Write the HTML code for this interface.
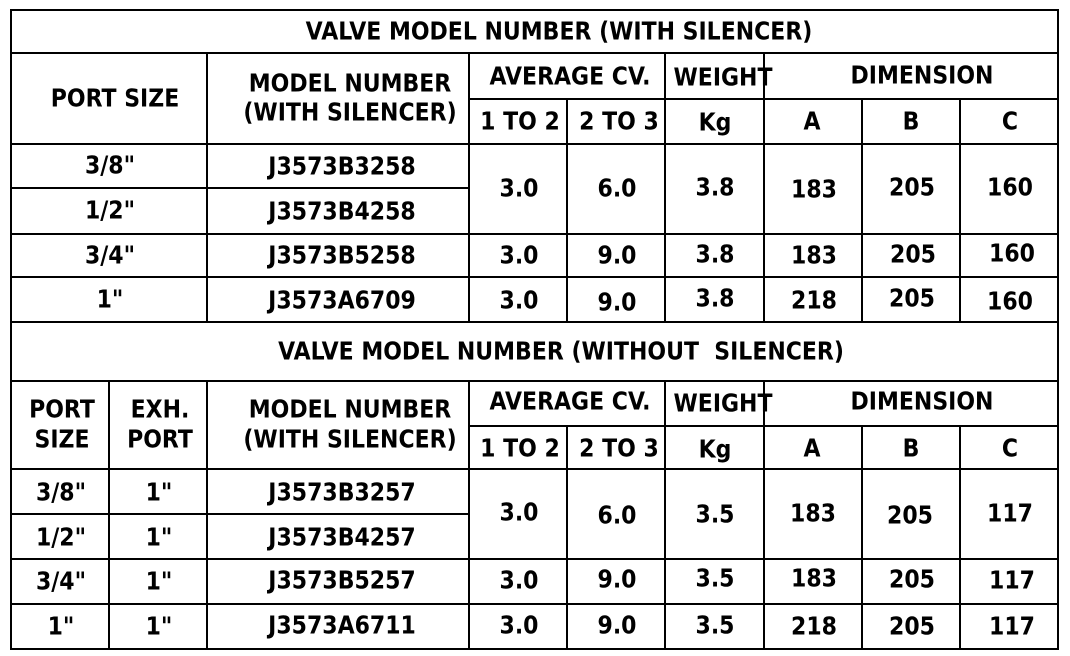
<!DOCTYPE html>
<html>
<head>
<meta charset="utf-8">
<style>
html,body{margin:0;padding:0;background:#fff;}
body{width:1070px;height:656px;position:relative;overflow:hidden;}
.h{position:absolute;height:2px;background:#000;}
.v{position:absolute;width:2px;background:#000;}
.t{position:absolute;white-space:nowrap;font-family:"DejaVu Sans","Liberation Sans",sans-serif;font-weight:bold;font-size:25px;line-height:25px;color:#000;transform:translate(-50%,-50%) scaleX(0.88);}
</style>
</head>
<body>
<!-- top table horizontals -->
<div class="h" style="left:10px;top:9px;width:1049px"></div>
<div class="h" style="left:10px;top:52px;width:1049px"></div>
<div class="h" style="left:468px;top:98px;width:591px"></div>
<div class="h" style="left:10px;top:143px;width:1049px"></div>
<div class="h" style="left:10px;top:187px;width:460px"></div>
<div class="h" style="left:10px;top:233px;width:1049px"></div>
<div class="h" style="left:10px;top:276px;width:1049px"></div>
<div class="h" style="left:10px;top:321px;width:1049px"></div>
<!-- bottom table horizontals -->
<div class="h" style="left:10px;top:380px;width:1049px"></div>
<div class="h" style="left:468px;top:425px;width:591px"></div>
<div class="h" style="left:10px;top:468px;width:1049px"></div>
<div class="h" style="left:10px;top:513px;width:460px"></div>
<div class="h" style="left:10px;top:558px;width:1049px"></div>
<div class="h" style="left:10px;top:603px;width:1049px"></div>
<div class="h" style="left:10px;top:648px;width:1049px"></div>
<!-- outer verticals -->
<div class="v" style="left:10px;top:9px;height:641px"></div>
<div class="v" style="left:1057px;top:9px;height:641px"></div>
<!-- top table verticals -->
<div class="v" style="left:206px;top:52px;height:271px"></div>
<div class="v" style="left:468px;top:52px;height:271px"></div>
<div class="v" style="left:566px;top:98px;height:225px"></div>
<div class="v" style="left:664px;top:52px;height:271px"></div>
<div class="v" style="left:763px;top:52px;height:271px"></div>
<div class="v" style="left:861px;top:98px;height:225px"></div>
<div class="v" style="left:959px;top:98px;height:225px"></div>
<!-- bottom table verticals -->
<div class="v" style="left:108px;top:380px;height:270px"></div>
<div class="v" style="left:206px;top:380px;height:270px"></div>
<div class="v" style="left:468px;top:380px;height:270px"></div>
<div class="v" style="left:566px;top:425px;height:225px"></div>
<div class="v" style="left:664px;top:380px;height:270px"></div>
<div class="v" style="left:763px;top:380px;height:270px"></div>
<div class="v" style="left:861px;top:425px;height:225px"></div>
<div class="v" style="left:959px;top:425px;height:225px"></div>

<!-- top table text -->
<span class="t" style="left:559px;top:31px">VALVE MODEL NUMBER (WITH SILENCER)</span>
<span class="t" style="left:115px;top:98px">PORT SIZE</span>
<span class="t" style="left:350px;top:83px">MODEL NUMBER</span>
<span class="t" style="left:350px;top:112px">(WITH SILENCER)</span>
<span class="t" style="left:570px;top:76px">AVERAGE CV.</span>
<span class="t" style="left:723px;top:77px">WEIGHT</span>
<span class="t" style="left:922px;top:75px">DIMENSION</span>
<span class="t" style="left:520px;top:121px">1 TO 2</span>
<span class="t" style="left:619px;top:121px">2 TO 3</span>
<span class="t" style="left:715px;top:122px">Kg</span>
<span class="t" style="left:812px;top:121px">A</span>
<span class="t" style="left:911px;top:121px">B</span>
<span class="t" style="left:1010px;top:121px">C</span>

<span class="t" style="left:110px;top:165px">3/8&quot;</span>
<span class="t" style="left:342px;top:166px">J3573B3258</span>
<span class="t" style="left:110px;top:210px">1/2&quot;</span>
<span class="t" style="left:342px;top:211px">J3573B4258</span>
<span class="t" style="left:519px;top:188px">3.0</span>
<span class="t" style="left:617px;top:188px">6.0</span>
<span class="t" style="left:715px;top:187px">3.8</span>
<span class="t" style="left:814px;top:189px">183</span>
<span class="t" style="left:912px;top:187px">205</span>
<span class="t" style="left:1010px;top:187px">160</span>

<span class="t" style="left:110px;top:255px">3/4&quot;</span>
<span class="t" style="left:342px;top:255px">J3573B5258</span>
<span class="t" style="left:519px;top:255px">3.0</span>
<span class="t" style="left:617px;top:255px">9.0</span>
<span class="t" style="left:715px;top:254px">3.8</span>
<span class="t" style="left:814px;top:255px">183</span>
<span class="t" style="left:913px;top:254px">205</span>
<span class="t" style="left:1012px;top:253px">160</span>

<span class="t" style="left:110px;top:299px">1&quot;</span>
<span class="t" style="left:342px;top:300px">J3573A6709</span>
<span class="t" style="left:519px;top:300px">3.0</span>
<span class="t" style="left:617px;top:302px">9.0</span>
<span class="t" style="left:715px;top:298px">3.8</span>
<span class="t" style="left:814px;top:300px">218</span>
<span class="t" style="left:912px;top:298px">205</span>
<span class="t" style="left:1010px;top:301px">160</span>

<!-- bottom table text -->
<span class="t" style="left:561px;top:351px">VALVE MODEL NUMBER (WITHOUT&nbsp; SILENCER)</span>
<span class="t" style="left:62px;top:409px">PORT</span>
<span class="t" style="left:62px;top:439px">SIZE</span>
<span class="t" style="left:160px;top:409px">EXH.</span>
<span class="t" style="left:160px;top:439px">PORT</span>
<span class="t" style="left:350px;top:409px">MODEL NUMBER</span>
<span class="t" style="left:350px;top:439px">(WITH SILENCER)</span>
<span class="t" style="left:570px;top:401px">AVERAGE CV.</span>
<span class="t" style="left:723px;top:403px">WEIGHT</span>
<span class="t" style="left:922px;top:401px">DIMENSION</span>
<span class="t" style="left:520px;top:448px">1 TO 2</span>
<span class="t" style="left:619px;top:448px">2 TO 3</span>
<span class="t" style="left:715px;top:449px">Kg</span>
<span class="t" style="left:812px;top:448px">A</span>
<span class="t" style="left:911px;top:448px">B</span>
<span class="t" style="left:1010px;top:448px">C</span>

<span class="t" style="left:61px;top:492px">3/8&quot;</span>
<span class="t" style="left:159px;top:492px">1&quot;</span>
<span class="t" style="left:342px;top:492px">J3573B3257</span>
<span class="t" style="left:61px;top:537px">1/2&quot;</span>
<span class="t" style="left:159px;top:537px">1&quot;</span>
<span class="t" style="left:342px;top:537px">J3573B4257</span>
<span class="t" style="left:519px;top:512px">3.0</span>
<span class="t" style="left:617px;top:515px">6.0</span>
<span class="t" style="left:715px;top:514px">3.5</span>
<span class="t" style="left:813px;top:513px">183</span>
<span class="t" style="left:910px;top:515px">205</span>
<span class="t" style="left:1010px;top:513px">117</span>

<span class="t" style="left:61px;top:581px">3/4&quot;</span>
<span class="t" style="left:159px;top:581px">1&quot;</span>
<span class="t" style="left:342px;top:580px">J3573B5257</span>
<span class="t" style="left:519px;top:580px">3.0</span>
<span class="t" style="left:617px;top:579px">9.0</span>
<span class="t" style="left:715px;top:578px">3.5</span>
<span class="t" style="left:814px;top:578px">183</span>
<span class="t" style="left:912px;top:579px">205</span>
<span class="t" style="left:1012px;top:580px">117</span>

<span class="t" style="left:61px;top:626px">1&quot;</span>
<span class="t" style="left:159px;top:626px">1&quot;</span>
<span class="t" style="left:342px;top:625px">J3573A6711</span>
<span class="t" style="left:519px;top:625px">3.0</span>
<span class="t" style="left:617px;top:625px">9.0</span>
<span class="t" style="left:715px;top:625px">3.5</span>
<span class="t" style="left:814px;top:626px">218</span>
<span class="t" style="left:912px;top:626px">205</span>
<span class="t" style="left:1012px;top:626px">117</span>
</body>
</html>
